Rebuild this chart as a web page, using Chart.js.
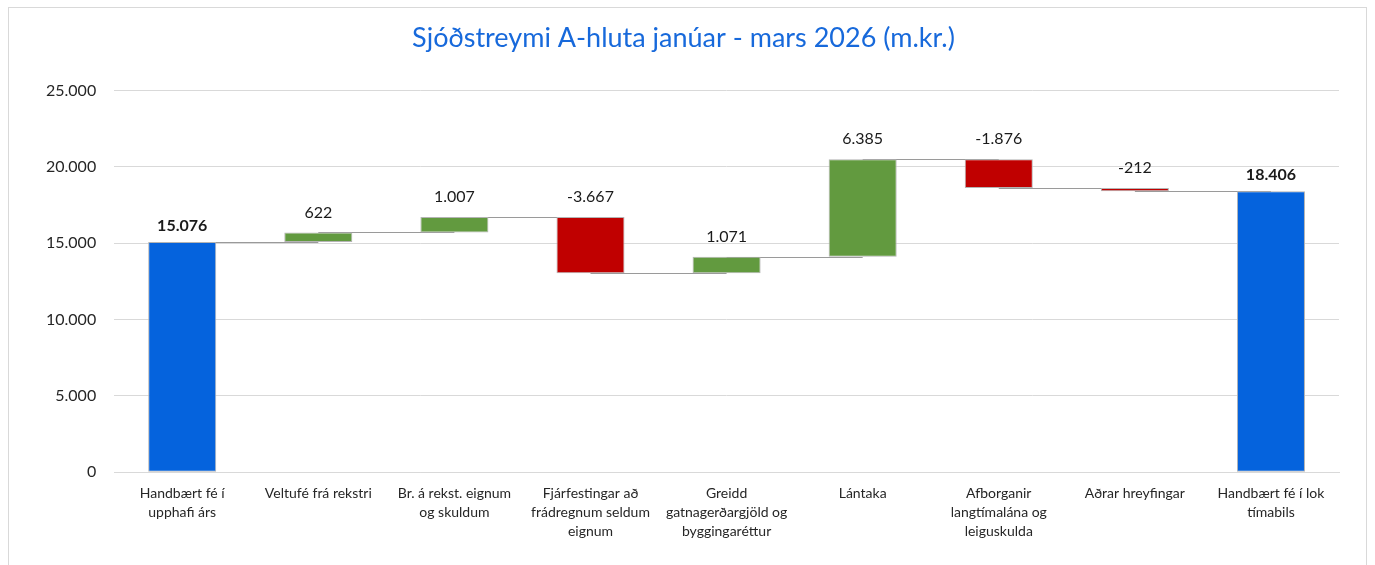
<!DOCTYPE html>
<html>
<head>
<meta charset="utf-8">
<script src="https://cdn.jsdelivr.net/npm/chart.js@4.4.1/dist/chart.umd.min.js"></script>
<style>
  html, body { margin: 0; padding: 0; background: #fff; }
  #wrap { position: absolute; left: 8px; top: 7px; width: 1359px; height: 580px; border: 1px solid #d9d9d9; box-sizing: border-box; }
  #chart { position: absolute; left: 0; top: 0; }
</style>
</head>
<body>
<div id="wrap"></div>
<canvas id="chart" width="1375" height="565"></canvas>
<script>
const categories = [
    ['Handbært fé í', 'upphafi árs'],
    'Veltufé frá rekstri',
    ['Br. á rekst. eignum', 'og skuldum'],
    ['Fjárfestingar að', 'frádregnum seldum', 'eignum'],
    ['Greidd', 'gatnagerðargjöld og', 'byggingaréttur'],
    'Lántaka',
    ['Afborganir', 'langtímalána og', 'leiguskulda'],
    'Aðrar hreyfingar',
    ['Handbært fé í lok', 'tímabils']
];
const changes = [15076, 622, 1007, -3667, 1071, 6385, -1876, -212, 18406];
const isTotal = [true, false, false, false, false, false, false, false, true];
const yTicks = [0, 5000, 10000, 15000, 20000, 25000];

const BLUE = '#0563DD';
const GREEN = '#629A3F';
const RED = '#C00000';

const fmt = v => {
    const s = Math.abs(Math.round(v)).toString().replace(/\B(?=(\d{3})+(?!\d))/g, '.');
    return (v < 0 ? '-' : '') + s;
};

// build floating bars [start, end] from the changes
const ranges = [];
const colors = [];
let running = 0;
changes.forEach((c, i) => {
    if (isTotal[i]) {
        ranges.push([0, c]);
        running = c;
        colors.push(BLUE);
    } else {
        ranges.push([running, running + c]);
        running += c;
        colors.push(c >= 0 ? GREEN : RED);
    }
});

const connectors = {
    id: 'connectors',
    beforeDatasetsDraw(chart) {
        const meta = chart.getDatasetMeta(0);
        const y = chart.scales.y;
        const ctx = chart.ctx;
        ctx.save();
        ctx.strokeStyle = '#9a9a9a';
        ctx.lineWidth = 1;
        for (let i = 0; i < ranges.length - 1; i++) {
            const level = ranges[i][1];
            const py = Math.round(y.getPixelForValue(level)) + 0.5;
            ctx.beginPath();
            ctx.moveTo(meta.data[i].x, py);
            ctx.lineTo(meta.data[i + 1].x, py);
            ctx.stroke();
        }
        ctx.restore();
    }
};

const valueLabels = {
    id: 'valueLabels',
    afterDatasetsDraw(chart) {
        const meta = chart.getDatasetMeta(0);
        const y = chart.scales.y;
        const ctx = chart.ctx;
        ctx.save();
        ctx.textAlign = 'center';
        ctx.textBaseline = 'bottom';
        ctx.fillStyle = '#1a1a1a';
        meta.data.forEach((bar, i) => {
            const top = y.getPixelForValue(Math.max(ranges[i][0], ranges[i][1]));
            ctx.font = (isTotal[i] ? 'bold ' : '') + '16px Lato';
            ctx.fillText(fmt(changes[i]), bar.x, top - (isTotal[i] ? 8 : 12));
        });
        ctx.restore();
    }
};

new Chart(document.getElementById('chart').getContext('2d'), {
    type: 'bar',
    data: {
        labels: categories,
        datasets: [{
            data: ranges,
            backgroundColor: colors,
            borderColor: '#b4b4b4',
            borderWidth: 1,
            borderSkipped: false,
            categoryPercentage: 1,
            barPercentage: 0.5
        }]
    },
    options: {
        responsive: false,
        animation: false,
        layout: { padding: { left: 28, right: 36, top: 14, bottom: 12 } },
        plugins: {
            legend: { display: false },
            tooltip: { enabled: false },
            title: {
                display: true,
                text: 'Sjóðstreymi A-hluta janúar - mars 2026 (m.kr.)',
                color: '#1769DB',
                font: { family: 'Lato', size: 27, weight: 'normal' },
                padding: { top: 8, bottom: 36 }
            }
        },
        scales: {
            x: {
                grid: { display: false, drawTicks: false },
                border: { color: '#d9d9d9', width: 1 },
                ticks: {
                    color: '#262626',
                    font: { family: 'Lato', size: 14, lineHeight: 1.35 },
                    maxRotation: 0,
                    autoSkip: false,
                    padding: 12
                }
            },
            y: {
                min: 0,
                max: 25000,
                afterBuildTicks: axis => { axis.ticks = yTicks.map(v => ({ value: v })); },
                grid: { color: '#d9d9d9', drawTicks: false },
                border: { display: false },
                ticks: {
                    color: '#262626',
                    font: { family: 'Lato', size: 16 },
                    padding: 18,
                    callback: v => fmt(v)
                }
            }
        }
    },
    plugins: [connectors, valueLabels]
});
</script>
</body>
</html>
